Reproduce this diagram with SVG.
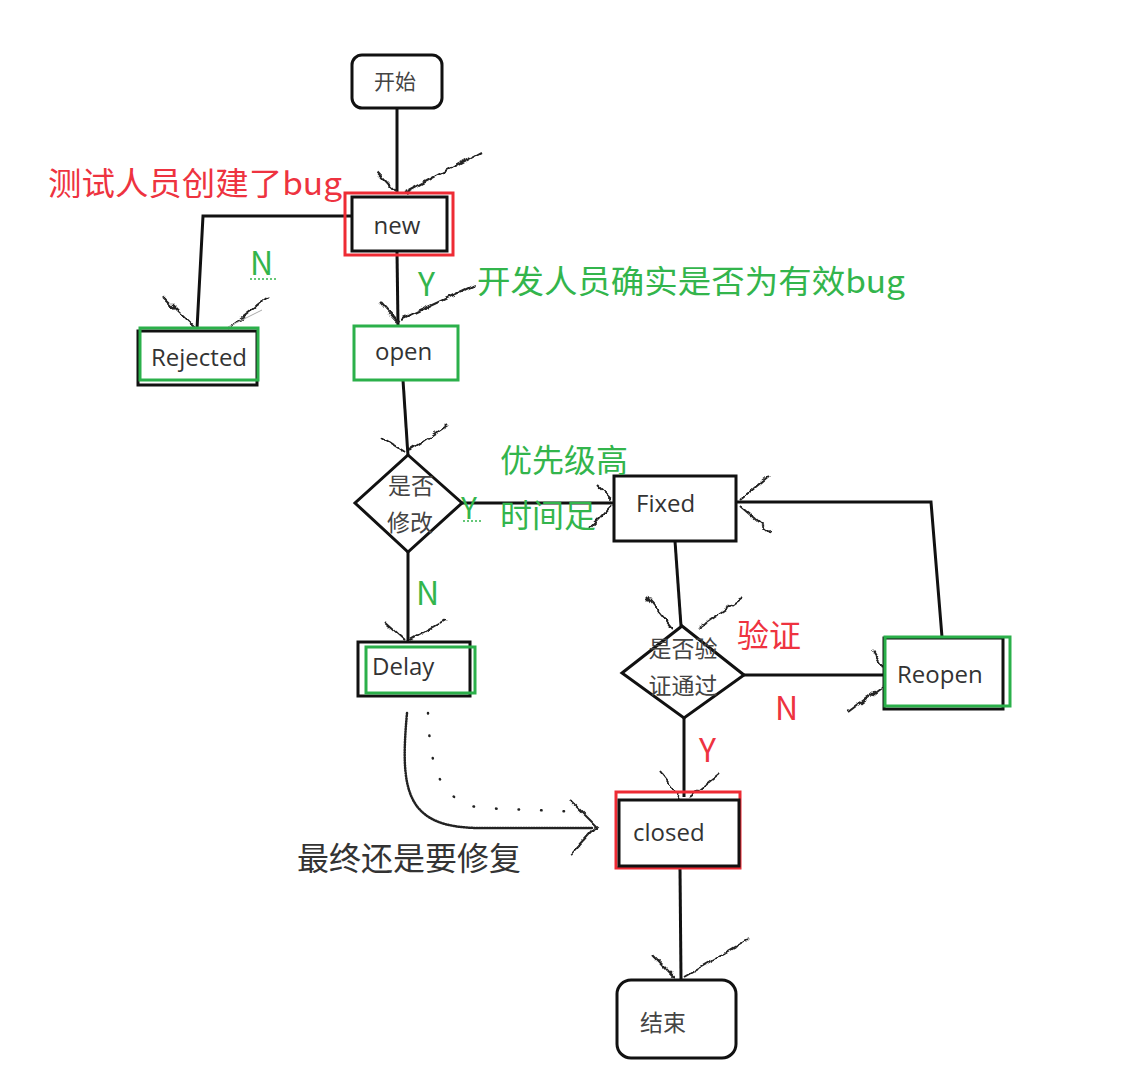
<svg xmlns="http://www.w3.org/2000/svg" width="1135" height="1070" viewBox="0 0 1135 1070">
<style>
.box{fill:#fff;stroke:#111;stroke-width:3}
.red{fill:none;stroke:#ee2b34;stroke-width:3}
.grn{fill:none;stroke:#2bb04a;stroke-width:3}
.ln{fill:none;stroke:#111;stroke-width:3}
.wg{fill:none;stroke:#222;stroke-width:2}
.t{font-family:"Open Sans","Noto Sans",sans-serif;font-size:24px;fill:#333}
.c{font-family:"Noto Sans CJK SC",sans-serif;font-size:23px;fill:#444}
.lr{font-family:"Noto Sans CJK SC","Noto Sans",sans-serif;font-size:32px;fill:#ee3340}
.lg{font-family:"Noto Sans CJK SC","Noto Sans",sans-serif;font-size:32px;fill:#33b54c}
.lk{font-family:"Noto Sans CJK SC",sans-serif;font-size:32px;fill:#333}
.dot{fill:none;stroke:#222;stroke-width:2.5;stroke-linecap:round}
</style>
<defs>
<filter id="wig" x="-20%" y="-20%" width="140%" height="140%">
<feTurbulence type="fractalNoise" baseFrequency="0.12" numOctaves="1" seed="5"/>
<feDisplacementMap in="SourceGraphic" scale="8" xChannelSelector="R" yChannelSelector="G"/>
</filter>
</defs>
<rect width="1135" height="1070" fill="#fff"/>
<g id="connectors">
<path class="ln" d="M397 108 L397 194"/>
<path class="ln" d="M352 216 L203 216 L197 329"/>
<path class="ln" d="M397 252 L398 325"/>
<path class="ln" d="M403 380 L408 456"/>
<path class="ln" d="M462 503 L613 503"/>
<path class="ln" d="M408 552 L408 642"/>
<path class="ln" d="M736 502 L931 502 L942 637"/>
<path class="ln" d="M675 541 L681 626"/>
<path class="ln" d="M744 675 L884 675"/>
<path class="ln" d="M684 718 L684 797"/>
<path class="ln" d="M680 868 L681 979"/>
<g filter="url(#wig)">
<path class="wg" d="M377 172 L397 193 M480 152 L405 193"/>
<path class="wg" d="M163 297 L195 328 M268 297 L228 328"/>
<path class="wg" d="M380 302 L398 322 M475 285 L400 320"/>
<path class="wg" d="M382 437 L405 452 M447 425 L410 450"/>
<path class="wg" d="M597 485 L612 500 M590 528 L612 505"/>
<path class="wg" d="M770 475 L740 500 M770 532 L740 506"/>
<path class="wg" d="M647 597 L672 628 M743 597 L698 628"/>
<path class="wg" d="M873 650 L884 668 M848 712 L884 685"/>
<path class="wg" d="M385 622 L405 640 M445 620 L410 640"/>
<path class="wg" d="M660 772 L680 797 M720 773 L690 797"/>
<path class="wg" d="M653 955 L675 978 M748 940 L684 977"/>
</g>
<path d="M228 327 L262 310" stroke="#aaa" stroke-width="1" fill="none"/>
<path class="dot" d="M407 713 C400 790 405 828 480 828 L592 828" stroke-dasharray="1 1.6"/>
<path class="dot" d="M428 713 C430 770 440 800 480 808 L585 812" stroke-dasharray="0.5 22"/>
<g filter="url(#wig)"><path class="wg" stroke-width="2.5" d="M570 800 L596 826 L570 855"/></g>
</g>
<g id="start"><rect class="box" x="352" y="55" width="90" height="53" rx="10"/><text class="c" x="395" y="89" text-anchor="middle" style="font-size:21px">开始</text></g>
<g id="new"><rect class="red" x="345" y="193" width="108" height="62"/><rect class="box" x="352" y="197" width="95" height="54"/><text class="t" x="397" y="234" text-anchor="middle">new</text></g>
<g id="rejected"><rect class="box" x="138" y="331" width="119" height="54"/><rect class="grn" x="140" y="328" width="118" height="52"/><text class="t" x="151" y="366">Rejected</text></g>
<g id="open"><rect class="box" x="354" y="326" width="104" height="54" style="stroke:#2bb04a"/><text class="t" x="375" y="360">open</text></g>
<g id="modify"><path class="box" d="M408 455 L462 503 L408 552 L355 503 Z"/><text class="c" x="411" y="494" text-anchor="middle">是否</text><text class="c" x="410" y="531" text-anchor="middle">修改</text></g>
<g id="fixed"><rect class="box" x="614" y="476" width="122" height="65"/><text class="t" x="636" y="512">Fixed</text></g>
<g id="delay"><rect class="box" x="358" y="642" width="112" height="54"/><rect class="grn" x="366" y="647" width="109" height="46"/><text class="t" x="372" y="675">Delay</text></g>
<g id="verify"><path class="box" d="M682 626 L744 675 L684 718 L622 673 Z"/><text class="c" x="683" y="657" text-anchor="middle">是否验</text><text class="c" x="683" y="694" text-anchor="middle">证通过</text></g>
<g id="reopen"><rect class="box" x="884" y="638" width="119" height="71"/><rect class="grn" x="885" y="637" width="125" height="69"/><text class="t" x="897" y="683">Reopen</text></g>
<g id="closed"><rect class="red" x="616" y="792" width="124" height="76"/><rect class="box" x="619" y="800" width="120" height="66"/><text class="t" x="633" y="841">closed</text></g>
<g id="end"><rect class="box" x="617" y="980" width="119" height="78" rx="14"/><text class="c" x="663" y="1031" text-anchor="middle">结束</text></g>
<g id="labels">
<text class="lr" x="48" y="195" textLength="294" lengthAdjust="spacingAndGlyphs">测试人员创建了bug</text>
<text class="lg" x="250" y="275">N</text>
<path d="M250 279 L277 279" stroke="#33b54c" stroke-width="1.5" stroke-dasharray="2 2"/>
<text class="lg" x="418" y="296">Y</text>
<text class="lg" x="477" y="293" textLength="428" lengthAdjust="spacingAndGlyphs">开发人员确实是否为有效bug</text>
<text class="lg" x="500" y="472">优先级高</text>
<text class="lg" x="500" y="527">时间足</text>
<text class="lg" x="461" y="519" style="font-size:30px">Y</text>
<path d="M463 521 L482 521" stroke="#33b54c" stroke-width="1.5" stroke-dasharray="2 2"/>
<text class="lg" x="416" y="605">N</text>
<text class="lr" x="737" y="647">验证</text>
<text class="lr" x="775" y="720">N</text>
<text class="lr" x="699" y="762">Y</text>
<text class="lk" x="297" y="870">最终还是要修复</text>
</g>
</svg>
